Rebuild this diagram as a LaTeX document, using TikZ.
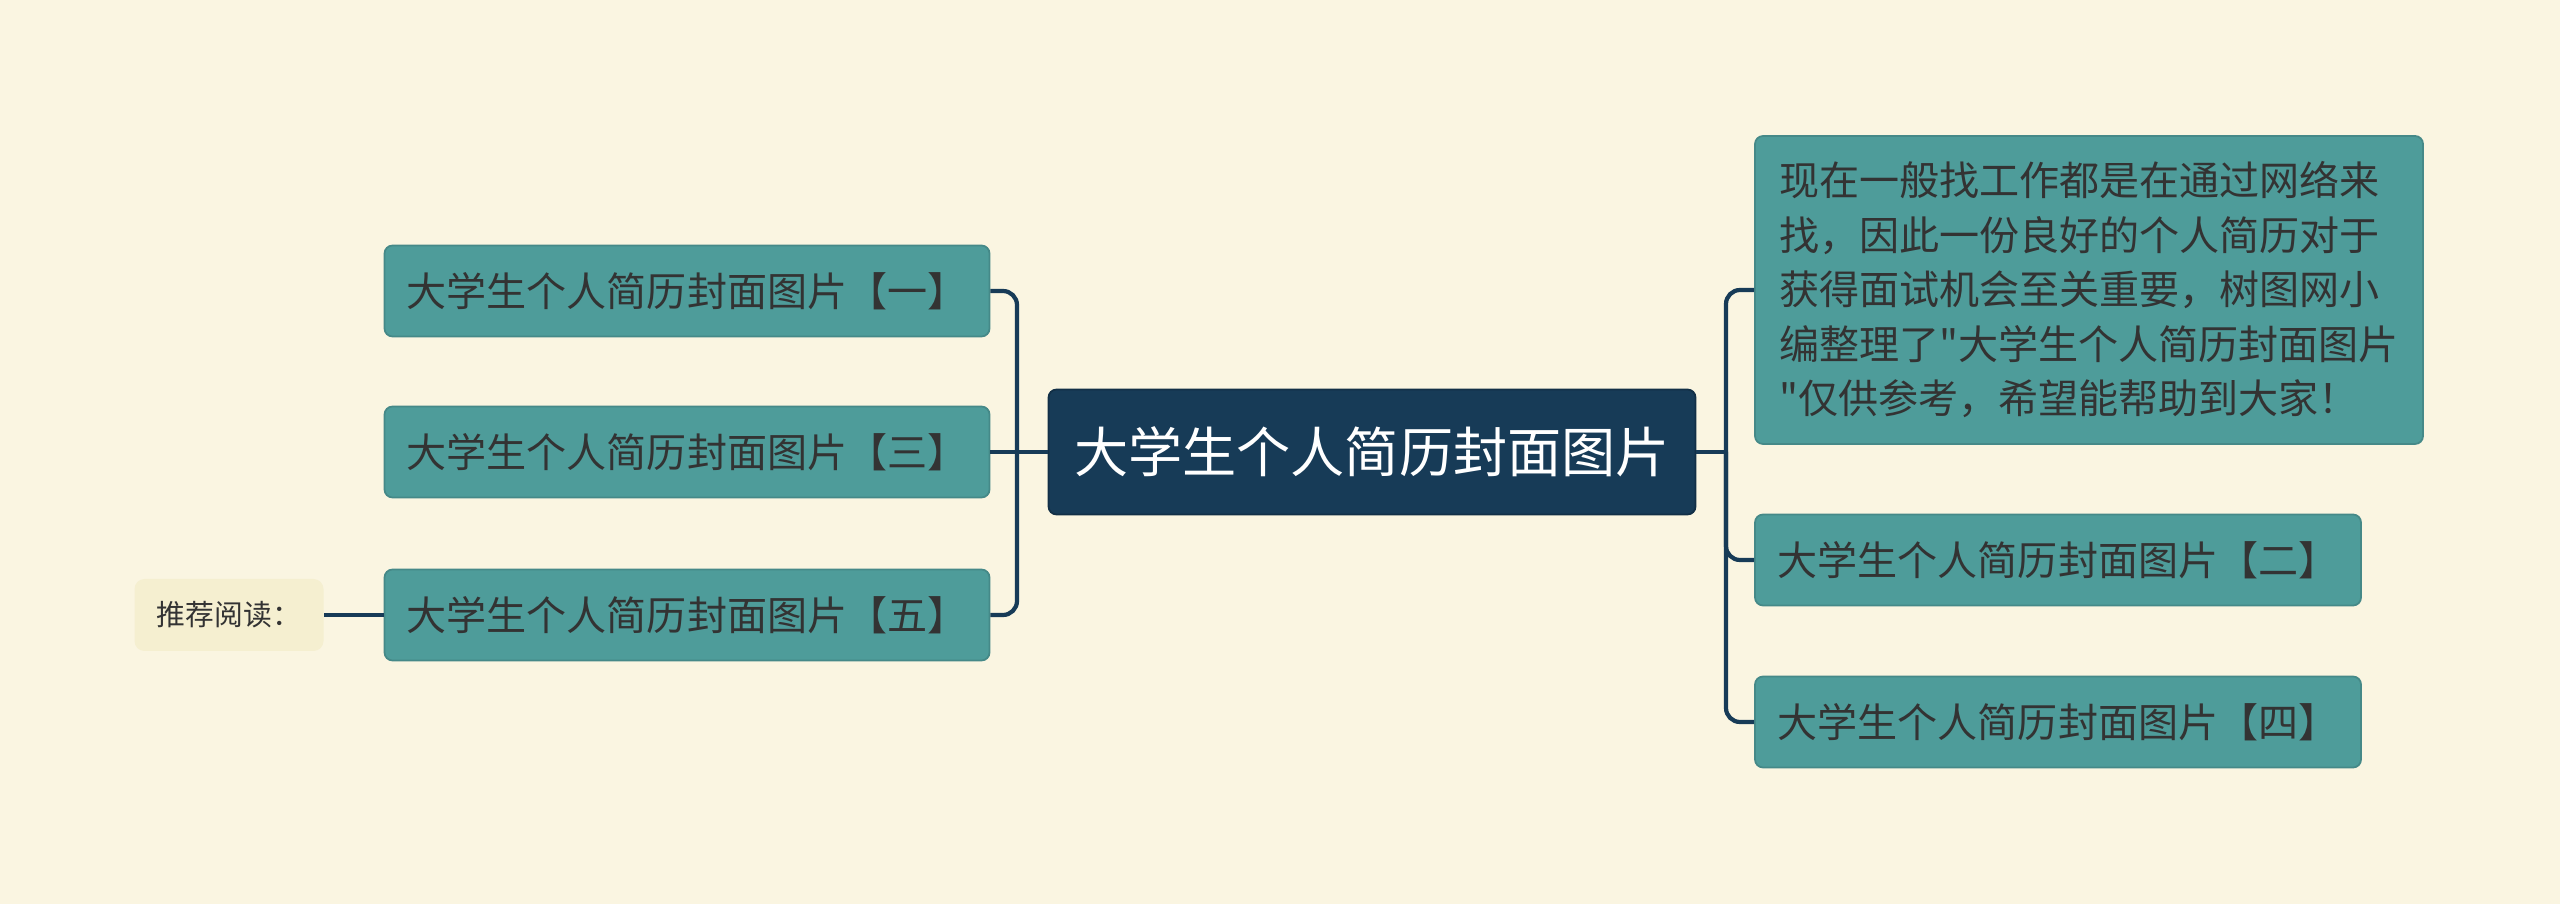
\documentclass[tikz,border=0pt]{standalone}
\usepackage{fontspec}
\newfontfamily\cjk{Noto Sans CJK SC}
\definecolor{paper}{RGB}{250,245,225}
\definecolor{boxteal}{RGB}{78,156,154}
\definecolor{navy}{RGB}{23,59,87}
\definecolor{tagfill}{RGB}{245,239,208}
\definecolor{inkgray}{RGB}{51,51,51}
\usetikzlibrary{positioning}
\tikzset{
  topic/.style={draw=navy!80!black, fill=navy, rounded corners=0.08cm,
                minimum width=6.47cm, minimum height=1.25cm, align=center,
                text=white, font=\cjk\fontsize{15.4}{18}\selectfont, line width=0.5pt},
  leaf/.style={draw=boxteal!88!black, fill=boxteal, rounded corners=0.08cm,
               minimum width=#1, minimum height=0.91cm, align=center,
               text=inkgray, font=\cjk\fontsize{11.4}{15.5}\selectfont, line width=0.5pt},
  tag/.style={fill=tagfill, rounded corners=0.1cm,
              minimum width=1.89cm, minimum height=0.72cm, align=center,
              text=inkgray, font=\cjk\fontsize{8.2}{10}\selectfont},
  conn/.style={draw=navy, line width=1.2pt, rounded corners=0.14cm},
}
\begin{document}
\begin{tikzpicture}
    \useasboundingbox[fill=paper] (0,0) rectangle (25.6,-9.04);

    % ── CENTRE ──────────────────────────────────────────────
    \node[topic] (root) at (13.72,-4.52) {大学生个人简历封面图片};

    % ── LEFT BRANCHES ───────────────────────────────────────
    \node[leaf=6.05cm] (p1) at (6.87,-2.91) {大学生个人简历封面图片【一】};
    \node[leaf=6.05cm] (p3) at (6.87,-4.52) {大学生个人简历封面图片【三】};
    \node[leaf=6.05cm] (p5) at (6.87,-6.15) {大学生个人简历封面图片【五】};
    \node[tag] (read) at (2.29,-6.15) {推荐阅读：};
    \coordinate (jl) at (10.17,-4.52);
    \draw[conn] (root.west) -- (jl);
    \draw[conn] (jl) |- (p1.east);
    \draw[conn] (jl) |- (p5.east);
    \draw[conn] (jl) -- (p3.east);
    \draw[conn] (read.east) -- (p5.west);

    % ── RIGHT BRANCHES ──────────────────────────────────────
    \node[leaf=6.68cm, minimum height=3.08cm, align=left] (intro) at (20.89,-2.90)
      {现在一般找工作都是在通过网络来\\找，因此一份良好的个人简历对于\\获得面试机会至关重要，树图网小\\编整理了"大学生个人简历封面图片\\"仅供参考，希望能帮助到大家！};
    \node[leaf=6.06cm] (p2) at (20.58,-5.60) {大学生个人简历封面图片【二】};
    \node[leaf=6.06cm] (p4) at (20.58,-7.22) {大学生个人简历封面图片【四】};
    \coordinate (jr) at (17.26,-4.52);
    \draw[conn] (root.east) -- (jr);
    \draw[conn] (jr) |- (intro.west);
    \draw[conn] (jr) |- (p2.west);
    \draw[conn] (jr) |- (p4.west);
\end{tikzpicture}
\end{document}
